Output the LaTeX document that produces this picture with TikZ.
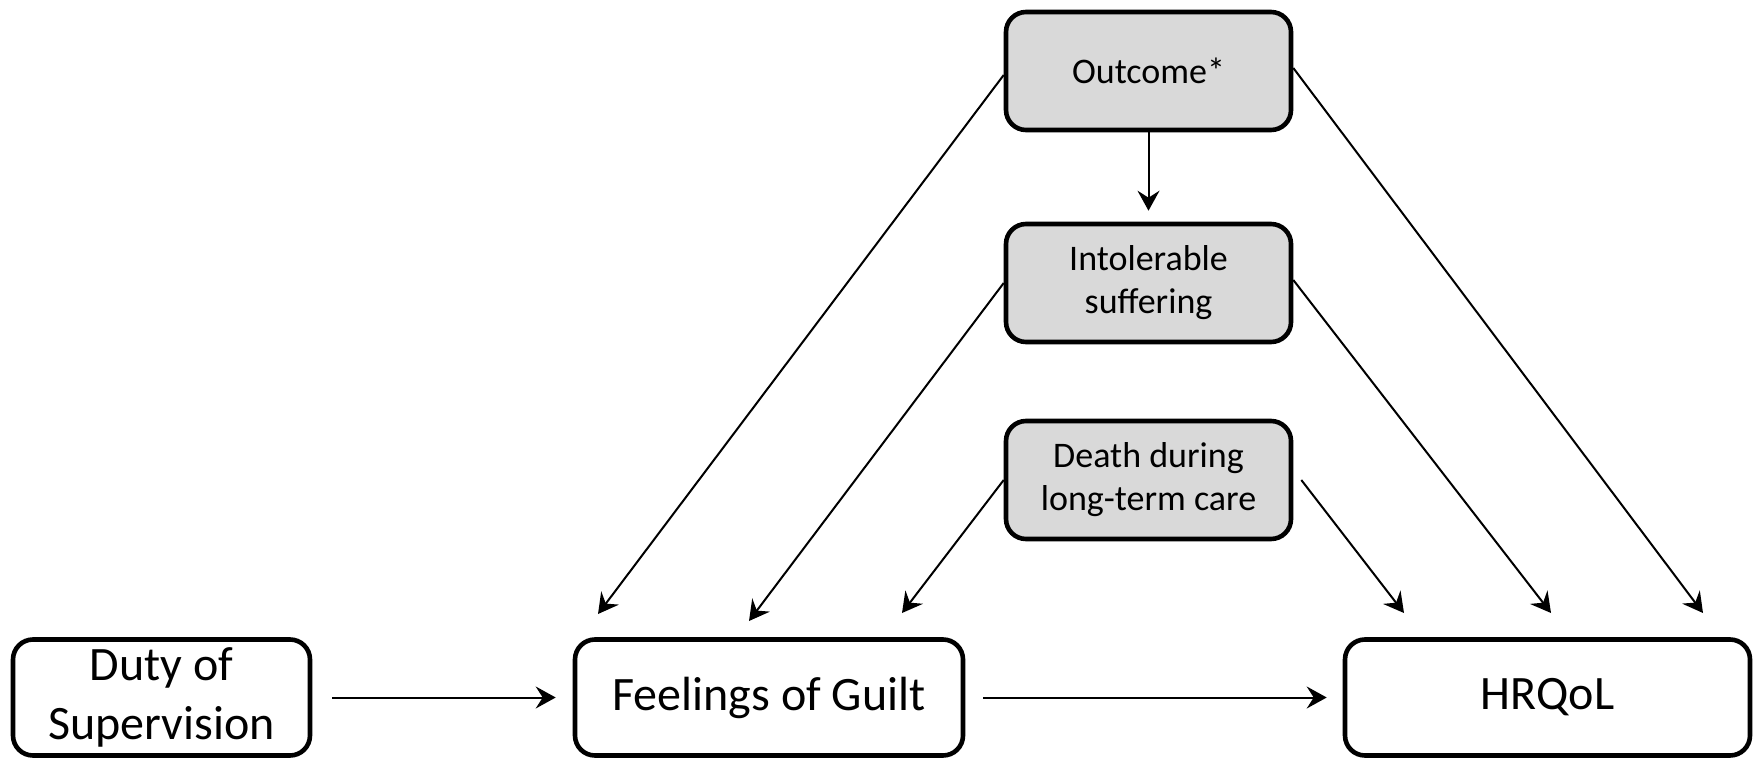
\documentclass[tikz,border=0pt]{standalone}
\usepackage{fontspec}
\setmainfont{Carlito}
\usetikzlibrary{arrows.meta}
\definecolor{boxgray}{HTML}{D9D9D9}
\tikzset{
  smallbox/.style={draw=black, line width=2.3pt, rounded corners=10pt, fill=boxgray,
    minimum width=142.5pt, minimum height=59pt, align=center, inner sep=0pt,
    font=\fontsize{18}{21.5}\selectfont},
  bigbox/.style={draw=black, line width=2.3pt, rounded corners=10pt, fill=white,
    minimum height=58pt, align=center, inner sep=0pt,
    font=\fontsize{24}{29.5}\selectfont},
  arr/.style={line width=1pt, -{Stealth[length=10pt, width=11pt, inset=3.5pt]}},
}
\begin{document}
\begin{tikzpicture}[x=0.5pt, y=-0.5pt]
\useasboundingbox (0,0) rectangle (1754,759);
\node[smallbox] (out) at (1148.5,71) {Outcome*};
\node[smallbox] (intol) at (1148.5,283) {Intolerable\\suffering};
\node[smallbox] (death) at (1148.5,480) {Death during\\long-term care};
\node[bigbox, minimum width=148.5pt] (duty) at (161.5,697.5) {Duty of\\Supervision};
\node[bigbox, minimum width=194pt] (guilt) at (769,697.5) {Feelings of Guilt};
\node[bigbox, minimum width=202.5pt] (hrqol) at (1547.5,697.5) {HRQoL};
\coordinate (a1) at (598,614);
\coordinate (a2) at (749,621);
\coordinate (a3) at (902,613);
\coordinate (b3) at (1404,613);
\coordinate (b2) at (1551,613);
\coordinate (b1) at (1703,613);
\draw[arr] ([xshift=10pt]duty.east) -- ([xshift=-8.5pt]guilt.west);
\draw[arr] ([xshift=9pt]guilt.east) -- ([xshift=-8pt]hrqol.west);
\draw[arr] (out.south) -- ([yshift=5.5pt]intol.north);
\draw[arr] ([yshift=-2pt]out.west) -- (a1);
\draw[arr] (intol.west) -- (a2);
\draw[arr] (death.west) -- (a3);
\draw[arr] ([xshift=4pt]death.east) -- (b3);
\draw[arr] ([yshift=1.5pt]intol.east) -- (b2);
\draw[arr] ([yshift=1.5pt]out.east) -- (b1);
\end{tikzpicture}
\end{document}
